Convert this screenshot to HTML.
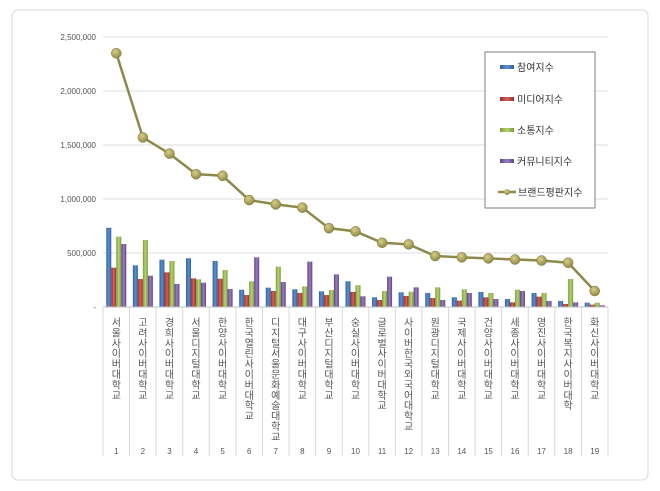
<!DOCTYPE html>
<html><head><meta charset="utf-8"><style>
body{margin:0;background:#fff;}
svg{display:block;font-family:"Liberation Sans","Noto Sans CJK KR",sans-serif;}
</style></head><body>
<svg id="chart" width="660" height="491">
<defs>
<linearGradient id="gb" x1="0" x2="1"><stop offset="0" stop-color="#2f5f9a"/><stop offset="0.5" stop-color="#5b8fd0"/><stop offset="1" stop-color="#2f5f9a"/></linearGradient>
<linearGradient id="gr" x1="0" x2="1"><stop offset="0" stop-color="#9a2f2c"/><stop offset="0.5" stop-color="#d65f5b"/><stop offset="1" stop-color="#9a2f2c"/></linearGradient>
<linearGradient id="gg" x1="0" x2="1"><stop offset="0" stop-color="#7a9a3a"/><stop offset="0.5" stop-color="#b5d46f"/><stop offset="1" stop-color="#7a9a3a"/></linearGradient>
<linearGradient id="gp" x1="0" x2="1"><stop offset="0" stop-color="#5e4585"/><stop offset="0.5" stop-color="#9a7dc0"/><stop offset="1" stop-color="#5e4585"/></linearGradient>
<radialGradient id="gm" cx="0.4" cy="0.35" r="0.7"><stop offset="0" stop-color="#d6cf8a"/><stop offset="1" stop-color="#8c8440"/></radialGradient>
</defs>
<rect x="12" y="10" width="636" height="470" rx="6" fill="#fff" stroke="#d9d9d9"/>
<g id="grid"></g><g id="bars"></g><g id="xaxis"></g><g id="line"></g>
<g>
<rect x="485" y="52" width="110" height="156" fill="#fff" stroke="#7f7f7f"/>
<g><rect x="500" y="65" width="14" height="4" fill="url(#gb)"/><text x="517" y="71" font-size="10" fill="#333">참여지수</text></g>
<g><rect x="500" y="97" width="14" height="4" fill="url(#gr)"/><text x="517" y="103" font-size="10" fill="#333">미디어지수</text></g>
<g><rect x="500" y="128" width="14" height="4" fill="url(#gg)"/><text x="517" y="134" font-size="10" fill="#333">소통지수</text></g>
<g><rect x="500" y="159" width="14" height="4" fill="url(#gp)"/><text x="517" y="165" font-size="10" fill="#333">커뮤니티지수</text></g>
<g><line x1="498" y1="192" x2="516" y2="192" stroke="#8c8a4b" stroke-width="2.5"/><circle cx="507" cy="192" r="3" fill="url(#gm)"/><text x="518" y="196" font-size="10" fill="#333">브랜드평판지수</text></g>
</g>
</svg>
<script>
const categories=["서울사이버대학교","고려사이버대학교","경희사이버대학교","서울디지털대학교","한양사이버대학교","한국열린사이버대학교","디지털서울문화예술대학교","대구사이버대학교","부산디지털대학교","숭실사이버대학교","글로벌사이버대학교","사이버한국외국어대학교","원광디지털대학교","국제사이버대학교","건양사이버대학교","세종사이버대학교","영진사이버대학교","한국복지사이버대학","화신사이버대학교"];
const participation=[734000,386000,438000,451000,426000,160000,179000,164000,145000,238000,90000,136000,130000,90000,139000,74000,130000,56000,40000];
const media=[364000,259000,321000,265000,262000,111000,148000,130000,111000,140000,65000,102000,83000,59000,90000,43000,96000,28000,22000];
const communication=[651000,620000,426000,256000,342000,238000,373000,191000,157000,202000,148000,142000,182000,164000,130000,160000,130000,259000,40000];
const community=[583000,290000,213000,225000,167000,460000,231000,420000,302000,99000,281000,182000,65000,130000,74000,148000,56000,43000,16000];
const brand=[2350000,1570000,1420000,1230000,1215000,990000,950000,920000,730000,700000,595000,580000,472000,460000,450000,440000,430000,410000,148000];
const yTicks=[0,500000,1000000,1500000,2000000,2500000];
const yTickLabels=["-","500,000","1,000,000","1,500,000","2,000,000","2,500,000"];

const NS="http://www.w3.org/2000/svg";
const X0=103,X1=608,Y0=307,YMAX=2500000,YTOP=37;
const bw=(X1-X0)/categories.length;
const y=v=>Y0-(v/YMAX)*(Y0-YTOP);
const xc=i=>X0+bw*(i+0.5);
function mk(tag,attrs,parent){const e=document.createElementNS(NS,tag);for(const k in attrs)e.setAttribute(k,attrs[k]);parent.appendChild(e);return e;}
const grid=document.getElementById('grid');
yTicks.forEach((t,i)=>{
  if(t>0){const l=mk('line',{x1:X0,x2:X1,y1:y(t),y2:y(t),stroke:'#dcdcdc'},grid);
  
  }
  const tx=mk('text',{x:96,y:y(t)+3,'font-size':8,'text-anchor':'end',fill:'#555'},grid);
  tx.textContent=yTickLabels[i];
  
  
});
const bars=document.getElementById('bars');
const series=[[participation,'url(#gb)','participation'],[media,'url(#gr)','media'],[communication,'url(#gg)','communication'],[community,'url(#gp)','community']];
const w=5;
categories.forEach((c,i)=>{
  series.forEach((s,j)=>{
    const v=s[0][i];const x=xc(i)-2*w+j*w;
    const r=mk('rect',{x:x,y:y(v),width:w,height:Y0-y(v),fill:s[1]},bars);
    
    
  });
});
const xa=document.getElementById('xaxis');
mk('line',{x1:X0,x2:X1,y1:Y0,y2:Y0,stroke:'#bfbfbf'},xa);
for(let i=0;i<=categories.length;i++){mk('line',{x1:X0+bw*i,x2:X0+bw*i,y1:Y0,y2:456,stroke:'#d9d9d9'},xa);}
categories.forEach((c,i)=>{
  const g=mk('g',{},xa);
  
  
  [...c].forEach((ch,k)=>{const t=mk('text',{x:xc(i),y:326+k*10.4,'font-size':10,'text-anchor':'middle',fill:'#555'},g);t.textContent=ch;});
  const n=mk('text',{x:xc(i),y:454,'font-size':8,'text-anchor':'middle',fill:'#555'},xa);
  n.textContent=String(i+1);
  
  
});
const lg=document.getElementById('line');
const p=mk('polyline',{points:brand.map((v,i)=>xc(i)+','+y(v)).join(' '),fill:'none',stroke:'#8c8a4b','stroke-width':2.5},lg);


brand.forEach((v,i)=>{const c=mk('circle',{cx:xc(i),cy:y(v),r:5,fill:'url(#gm)',stroke:'#7d7636','stroke-width':0.5},lg);

});
</script>
</body></html>
